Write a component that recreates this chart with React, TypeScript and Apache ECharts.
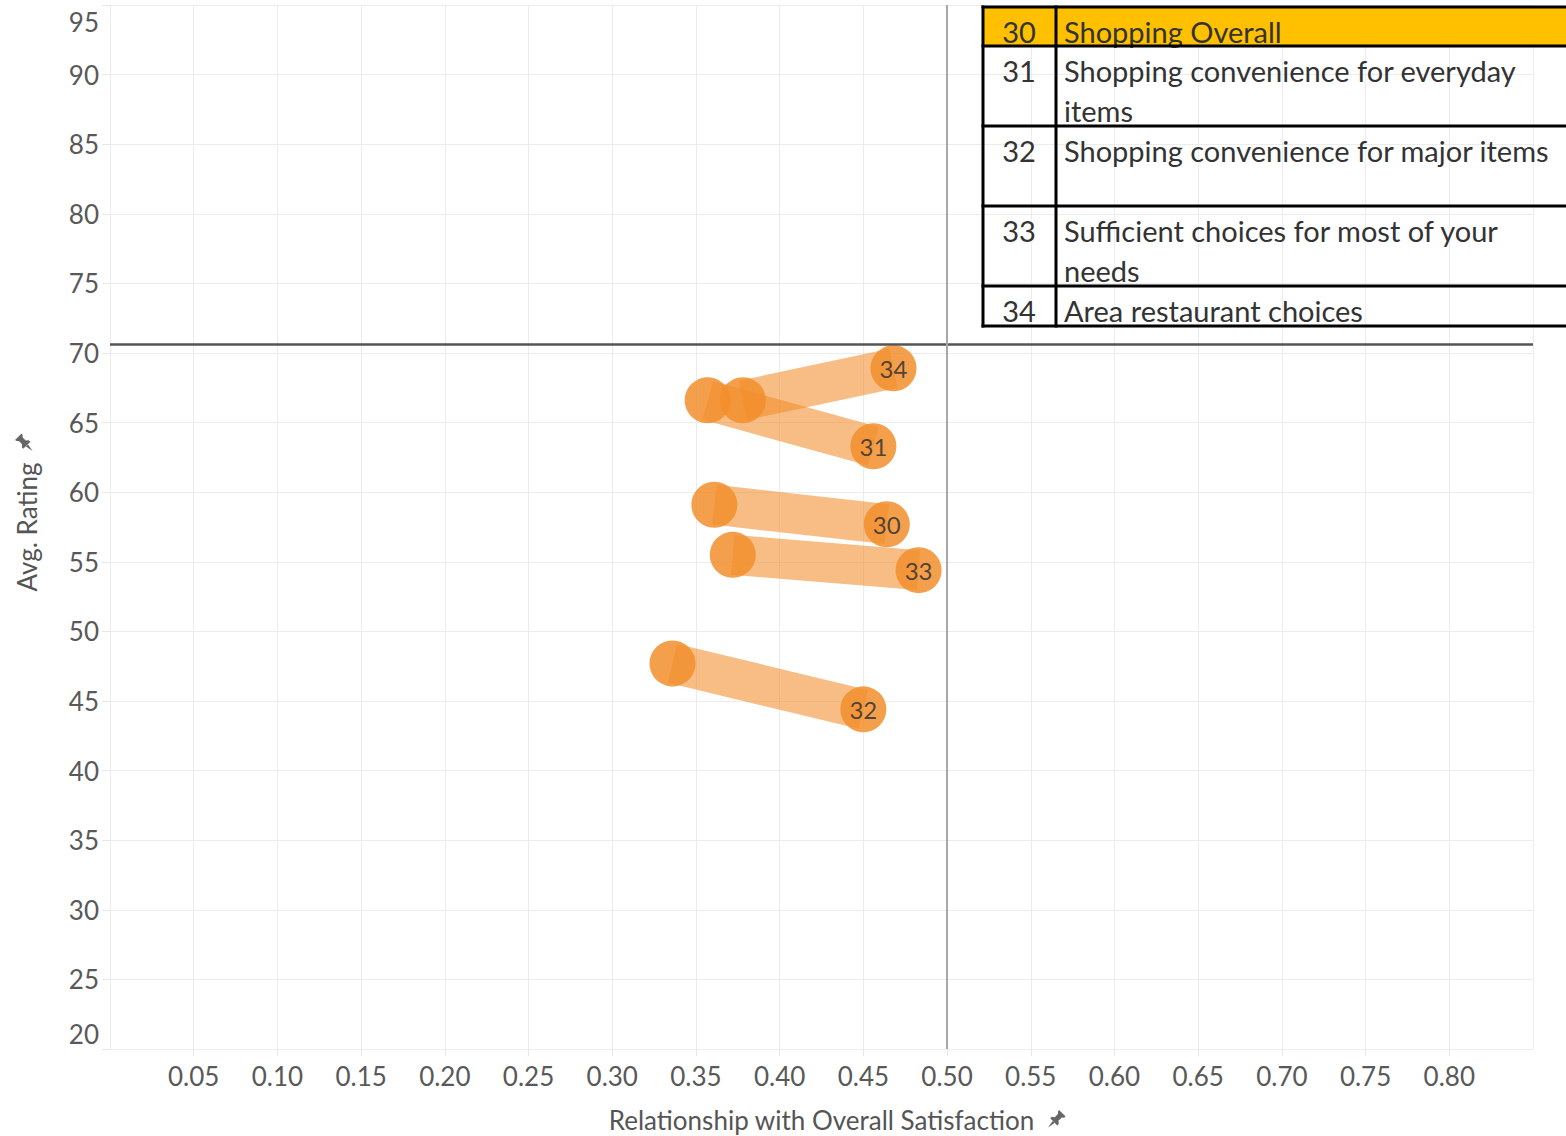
import React, { useEffect, useRef } from "react";
import * as echarts from "echarts";

// ---- data ----
const ids = ["30", "31", "32", "33", "34"];
const names = [
  "Shopping Overall",
  "Shopping convenience for everyday\nitems",
  "Shopping convenience for major items",
  "Sufficient choices for most of your\nneeds",
  "Area restaurant choices",
];
const startX = [0.361, 0.357, 0.336, 0.372, 0.378];
const startY = [59.1, 66.6, 47.7, 55.5, 66.6];
const endX = [0.464, 0.456, 0.45, 0.483, 0.468];
const endY = [57.7, 63.3, 44.4, 54.4, 68.9];
const refY = 70.6;
const refX = 0.5;
const highlighted = "30";

const xAxisName = "Relationship with Overall Satisfaction";
const yAxisName = "Avg. Rating";

const PIN_D =
  "M10 0 L16 6 L14.5 7 L12.5 6.8 L9.5 9.8 L9.8 12.5 L8.5 14 L2 7.5 L3.5 6.2 L6.2 6.5 L9.2 3.5 L9 1.5 Z M4.2 10 L6 11.8 L0 16 Z";

let registered = false;

export default function App() {
  const ref = useRef<HTMLDivElement>(null);
  useEffect(() => {
    if (!ref.current) return;
    if (!registered) {
      echarts.graphic.registerShape("pin", echarts.graphic.extendPath(PIN_D, {}) as any);
      registered = true;
    }
    const chart = echarts.init(ref.current, null, { renderer: "svg" });
    const FONT = "Lato";
    const orange = "#F28E2B";

    const lineSeries = ids.map((id, i) => ({
      type: "line",
      name: "trail" + id,
      data: [
        [startX[i], startY[i]],
        [endX[i], endY[i]],
      ],
      showSymbol: false,
      symbol: "none",
      silent: true,
      z: 2,
      lineStyle: { width: 40, color: orange, opacity: 0.58, cap: "butt" },
      ...(i === 0
        ? {
            markLine: {
              silent: true,
              symbol: ["none", "none"],
              label: { show: false },
              data: [
                { yAxis: refY, lineStyle: { color: "#555555", width: 2.5, type: "solid" } },
                { xAxis: refX, lineStyle: { color: "#a8a8a8", width: 2, type: "solid" } },
              ],
            },
          }
        : {}),
    }));

    // table graphics
    const rowTops = [7, 46, 126, 206, 286, 326];
    const tLeft = 983;
    const tRight = 1566;
    const tDiv = 1056;
    const graphics: any[] = [];
    ids.forEach((id, i) => {
      if (id === highlighted) {
        graphics.push({
          type: "rect",
          shape: { x: tLeft, y: rowTops[i], width: tRight - tLeft, height: rowTops[i + 1] - rowTops[i] },
          style: { fill: "#FFC000" },
          z: 10,
        });
      }
      graphics.push({
        type: "text",
        x: 1019,
        y: rowTops[i] + 4,
        z: 12,
        style: {
          text: id,
          fontFamily: FONT,
          fontSize: 29,
          fill: "#333333",
          textAlign: "center",
          textVerticalAlign: "top",
          lineHeight: 40,
        },
      });
      graphics.push({
        type: "text",
        x: 1064,
        y: rowTops[i] + 4,
        z: 12,
        style: {
          text: names[i],
          fontFamily: FONT,
          fontSize: 29,
          fill: "#333333",
          textAlign: "left",
          textVerticalAlign: "top",
          lineHeight: 40,
        },
      });
    });
    rowTops.forEach((y) => {
      graphics.push({
        type: "line",
        shape: { x1: tLeft - 1.5, y1: y, x2: tRight, y2: y },
        style: { stroke: "#000", lineWidth: 3 },
        z: 13,
      });
    });
    [tLeft, tDiv].forEach((x) => {
      graphics.push({
        type: "line",
        shape: { x1: x, y1: rowTops[0] - 1.5, x2: x, y2: rowTops[rowTops.length - 1] + 1.5 },
        style: { stroke: "#000", lineWidth: 3 },
        z: 13,
      });
    });
    // pins next to axis titles
    graphics.push({
      type: "pin",
      x: 1048,
      y: 1110,
      scaleX: 1.1,
      scaleY: 1.1,
      style: { fill: "#666666" },
      z: 5,
    });
    graphics.push({
      type: "pin",
      x: 15,
      y: 451,
      rotation: Math.PI / 2,
      scaleX: 1.1,
      scaleY: 1.1,
      style: { fill: "#666666" },
      z: 5,
    });

    const option: any = {
      animation: false,
      backgroundColor: "#ffffff",
      textStyle: { fontFamily: FONT },
      grid: {
        left: 110,
        right: 33,
        top: 5,
        bottom: 87,
        containLabel: false,
        outerBoundsMode: "none",
      },
      xAxis: {
        type: "value",
        min: 0,
        max: 0.85,
        interval: 0.05,
        name: xAxisName,
        nameLocation: "middle",
        nameGap: 58,
        nameTextStyle: { fontFamily: FONT, fontSize: 26, color: "#555555" },
        axisLine: { show: false },
        axisTick: { show: true, length: 7, lineStyle: { color: "#e6e6e6" } },
        splitLine: { show: true, lineStyle: { color: "#ececec", width: 1 } },
        axisLabel: {
          showMinLabel: false,
          showMaxLabel: false,
          margin: 14,
          fontFamily: FONT,
          fontSize: 26,
          color: "#595959",
          formatter: (v: number) => v.toFixed(2),
        },
      },
      yAxis: {
        type: "value",
        min: 20,
        max: 95,
        interval: 5,
        name: yAxisName,
        nameLocation: "middle",
        nameGap: 70,
        nameTextStyle: { fontFamily: FONT, fontSize: 26, color: "#555555" },
        axisLine: { show: false },
        axisTick: { show: true, length: 8, lineStyle: { color: "#e6e6e6" } },
        splitLine: { show: true, lineStyle: { color: "#ececec", width: 1 } },
        axisLabel: {
          margin: 11,
          fontFamily: FONT,
          fontSize: 26,
          color: "#595959",
          formatter: (v: number) => {
            if (v >= 95) return "{top|" + v + "}";
            if (v <= 20) return "{bot|" + v + "}";
            return String(v);
          },
          rich: {
            top: { fontFamily: FONT, fontSize: 26, color: "#595959", padding: [34, 0, 0, 0] },
            bot: { fontFamily: FONT, fontSize: 26, color: "#595959", padding: [0, 0, 30, 0] },
          },
        },
      },
      series: [
        ...lineSeries,
        {
          type: "scatter",
          name: "start",
          data: startX.map((x, i) => [x, startY[i]]),
          symbolSize: 46,
          silent: true,
          z: 3,
          itemStyle: { color: orange, opacity: 0.85 },
        },
        {
          type: "scatter",
          name: "end",
          data: endX.map((x, i) => [x, endY[i]]),
          symbolSize: 46,
          silent: true,
          z: 3,
          itemStyle: { color: orange, opacity: 0.85 },
          label: {
            show: true,
            position: "inside",
            fontFamily: FONT,
            fontSize: 24,
            color: "#333333",
            formatter: (p: any) => ids[p.dataIndex],
          },
        },
      ],
      graphic: graphics,
    };
    chart.setOption(option);
    return () => chart.dispose();
  }, []);
  return (
    <div
      ref={ref}
      style={{ position: "absolute", left: 0, top: 0, width: 1566, height: 1136 }}
    />
  );
}
